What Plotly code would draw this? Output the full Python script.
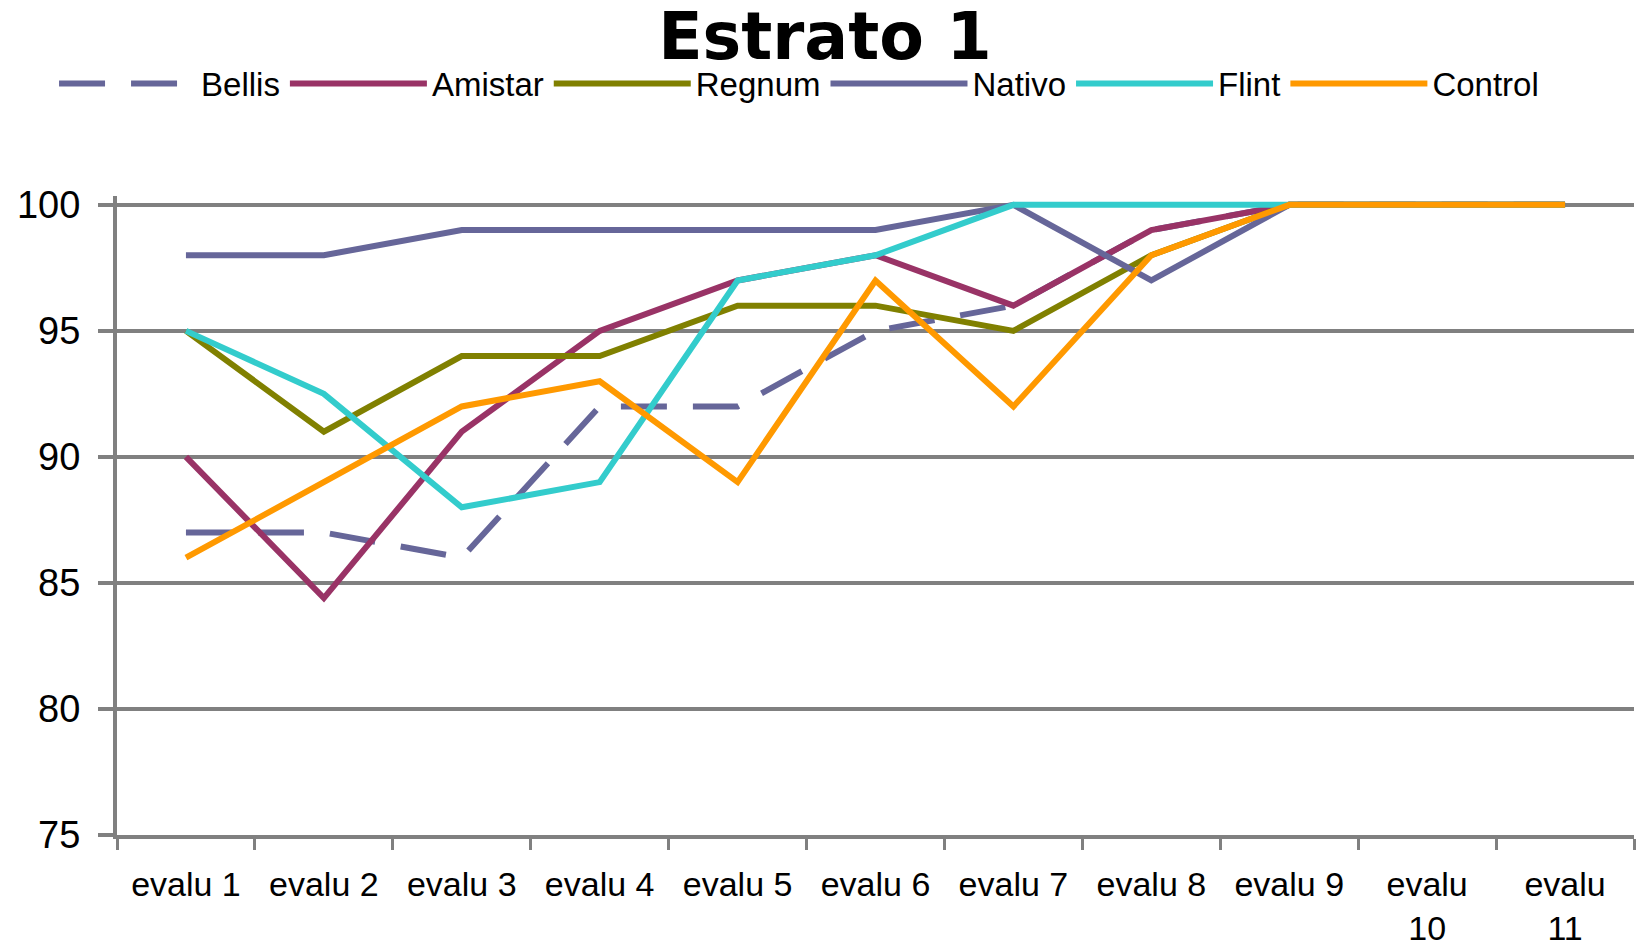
import plotly.graph_objects as go

categories = ["evalu 1", "evalu 2", "evalu 3", "evalu 4", "evalu 5", "evalu 6",
              "evalu 7", "evalu 8", "evalu 9", "evalu<br>10", "evalu<br>11"]

bellis  = [87, 87, 86, 92, 92, 95, 96, 99, 100, 100, 100]
amistar = [90, 84.4, 91, 95, 97, 98, 96, 99, 100, 100, 100]
regnum  = [95, 91, 94, 94, 96, 96, 95, 98, 100, 100, 100]
nativo  = [98, 98, 99, 99, 99, 99, 100, 97, 100, 100, 100]
flint   = [95, 92.5, 88, 89, 97, 98, 100, 100, 100, 100, 100]
control = [86, 89, 92, 93, 89, 97, 92, 98, 100, 100, 100]

y_ticks = [75, 80, 85, 90, 95, 100]

series = [
    ("Bellis", bellis, "#666699", "46px,26px"),
    ("Amistar", amistar, "#993366", "solid"),
    ("Regnum", regnum, "#808000", "solid"),
    ("Nativo", nativo, "#666699", "solid"),
    ("Flint", flint, "#33CCCC", "solid"),
    ("Control", control, "#FF9900", "solid"),
]

fig = go.Figure()
for name, vals, color, dash in series:
    fig.add_trace(go.Scatter(
        x=categories, y=vals, name=name, mode="lines",
        line=dict(color=color, width=6, dash=dash),
    ))

FONT = "Liberation Sans, Arial, sans-serif"
GRID = "#808080"

fig.update_layout(
    width=1639, height=949,
    paper_bgcolor="white", plot_bgcolor="white",
    margin=dict(l=117, r=5, t=196, b=114, autoexpand=False),
    font=dict(family=FONT, color="black"),
    title=dict(
        text="<b>Estrato 1</b>",
        font=dict(family="DejaVu Sans, sans-serif", size=65, color="black"),
        xref="container", yref="container",
        x=825 / 1639, xanchor="center", y=1 - 36 / 949, yanchor="middle",
    ),
    showlegend=True,
    legend=dict(
        orientation="h", itemwidth=137,
        font=dict(family=FONT, size=33, color="black"),
        x=-0.0415, xanchor="left", y=1.176, yanchor="middle",
        bgcolor="rgba(0,0,0,0)", traceorder="normal",
    ),
    xaxis=dict(
        type="category", categoryorder="array", categoryarray=categories,
        range=[-0.5, 10.5],
        showline=True, linecolor=GRID, linewidth=4,
        ticks="outside", tickson="boundaries", ticklen=11, tickwidth=3, tickcolor=GRID,
        showgrid=False, zeroline=False, ticklabelstandoff=16,
        tickfont=dict(family=FONT, size=34, color="black"),
    ),
    yaxis=dict(
        range=[75, 100.35], tickvals=y_ticks,
        showline=True, linecolor=GRID, linewidth=4,
        ticks="outside", ticklen=15, tickwidth=4, tickcolor=GRID,
        showgrid=True, gridcolor=GRID, gridwidth=4, zeroline=False,
        ticklabelstandoff=10,
        tickfont=dict(family=FONT, size=38, color="black"),
    ),
)

fig.write_html("out.html", config={"displayModeBar": False},
               post_script="document.body.style.margin='0';")
